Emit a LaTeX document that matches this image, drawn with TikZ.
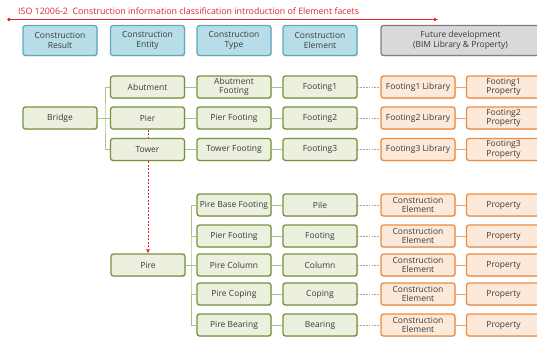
\documentclass[tikz,border=0pt]{standalone}
\usepackage{fontspec}
\setmainfont{Open Sans}
\usetikzlibrary{arrows.meta,shadows,backgrounds}

\definecolor{txt}{HTML}{3A3A3A}
\definecolor{gdraw}{HTML}{77933C}
\definecolor{gfill}{HTML}{EBF1DE}
\definecolor{gline}{HTML}{A9C47F}
\definecolor{odraw}{HTML}{F08A3C}
\definecolor{ofill}{HTML}{FDE9D9}
\definecolor{oline}{HTML}{F4A46A}
\definecolor{hdraw}{HTML}{5FA8C0}
\definecolor{hfill}{HTML}{B7DEE8}
\definecolor{fdraw}{HTML}{7F7F7F}
\definecolor{ffill}{HTML}{D9D9D9}
\definecolor{titlered}{HTML}{E0262B}

\tikzset{
  boxbase/.style={rounded corners=2.5bp, line width=1.3bp, text=txt,
    minimum width=74bp, minimum height=22bp, inner sep=0pt, align=center,
    font=\fontsize{8.5}{8.8}\selectfont,
    drop shadow={opacity=0.25, shadow xshift=0.8pt, shadow yshift=-0.8pt}},
  gbox/.style={boxbase, draw=gdraw, fill=gfill},
  obox/.style={boxbase, draw=odraw, fill=ofill},
  hbox/.style={boxbase, draw=hdraw, fill=hfill, minimum height=30bp,
    font=\fontsize{8.5}{10}\selectfont},
  fbox/.style={boxbase, draw=fdraw, fill=ffill, minimum height=30bp,
    minimum width=159bp, font=\fontsize{8.5}{10}\selectfont},
  tree/.style={draw=gline, line width=1bp},
  liblink/.style={draw=gray!70, line width=0.6bp, dash pattern=on 1.6bp off 1.2bp},
  proplink/.style={draw=oline, line width=1bp},
}

\begin{document}
\begin{tikzpicture}[x=1bp, y=-1bp]
\useasboundingbox (0,0) rectangle (537,338);
\clip (0,0) rectangle (537,338);

% title and timeline arrow
\node[anchor=base west, text=titlered, inner sep=0pt,
  font=\fontsize{8.9}{11}\selectfont] (title) at (18,14.5)
  {ISO 12006-2 \ Construction information classification introduction of Element facets};
\coordinate (tl0) at (9,19.5);
\coordinate (tl1) at (438,19.5);
\draw[titlered, line width=0.8bp, -{Latex[length=4bp,width=4bp]}] (tl0) -- (tl1);
\fill[titlered] (tl0) circle (1.8bp);

% column headers
\node[hbox] (hres) at (60,40.5) {Construction\\Result};
\node[hbox] (hent) at (147.5,40.5) {Construction\\Entity};
\node[hbox] (htyp) at (234,40.5) {Construction\\Type};
\node[hbox] (hele) at (320,40.5) {Construction\\Element};
\node[fbox] (hfut) at (460.5,40.5) {Future development\\(BIM Library \& Property)};

% bridge level
\node[gbox] (bridge) at (60,118) {Bridge};
\node[gbox] (abut) at (147.5,87) {Abutment};
\node[gbox] (pier) at (147.5,118) {Pier};
\node[gbox] (tower) at (147.5,149.5) {Tower};
\node[gbox, font=\fontsize{8.5}{9.6}\selectfont] (abutft) at (234,87) {Abutment\\Footing};
\node[gbox] (pierft) at (234,118) {Pier Footing};
\node[gbox] (towerft) at (234,149.5) {Tower Footing};
\node[gbox] (ft1) at (320,87) {Footing1};
\node[gbox] (ft2) at (320,118) {Footing2};
\node[gbox] (ft3) at (320,149.5) {Footing3};
\node[obox] (lib1) at (418,87) {Footing1 Library};
\node[obox] (lib2) at (418,118) {Footing2 Library};
\node[obox] (lib3) at (418,149.5) {Footing3 Library};
\node[obox, font=\fontsize{8.5}{9.6}\selectfont] (prop1) at (503.5,87) {Footing1\\Property};
\node[obox, font=\fontsize{8.5}{9.6}\selectfont] (prop2) at (503.5,118) {Footing2\\Property};
\node[obox, font=\fontsize{8.5}{9.6}\selectfont] (prop3) at (503.5,149.5) {Footing3\\Property};

% pire level
\node[gbox] (pire) at (148,265) {Pire};
\node[gbox] (pbase) at (234,205) {Pire Base Footing};
\node[gbox] (pfoot) at (234,236) {Pier Footing};
\node[gbox] (pcol) at (234,265) {Pire Column};
\node[gbox] (pcop) at (234,294) {Pire Coping};
\node[gbox] (pbear) at (234,325) {Pire Bearing};
\node[gbox] (epile) at (320,205) {Pile};
\node[gbox] (efoot) at (320,236) {Footing};
\node[gbox] (ecol) at (320,265) {Column};
\node[gbox] (ecop) at (320,294) {Coping};
\node[gbox] (ebear) at (320,325) {Bearing};
\foreach \n/\y in {1/205,2/236,3/265,4/294,5/325}{
  \node[obox, font=\fontsize{8.5}{8.2}\selectfont] (ce\n) at (418,\y) {Construction\\Element};
  \node[obox] (pp\n) at (503.5,\y) {Property};
}

\begin{scope}[on background layer]
  % bridge tree
  \coordinate (bj) at (105,118);
  \draw[tree] (bridge.east) -- (pier.west);
  \draw[tree] (abut.west) -| (bj) |- (tower.west);
  \draw[tree] (abut) -- (abutft);
  \draw[tree] (pier) -- (pierft);
  \draw[tree] (tower) -- (towerft);
  \draw[tree] (abutft) -- (ft1);
  \draw[tree] (pierft) -- (ft2);
  \draw[tree] (towerft) -- (ft3);
  \draw[liblink] (ft1) -- (lib1);
  \draw[liblink] (ft2) -- (lib2);
  \draw[liblink] (ft3) -- (lib3);
  \draw[proplink] (lib1) -- (prop1);
  \draw[proplink] (lib2) -- (prop2);
  \draw[proplink] (lib3) -- (prop3);

  % pier expands into the pire tree
  \draw[titlered, line width=0.8bp, dash pattern=on 2bp off 1.5bp,
    -{Latex[length=4bp,width=4bp]}] (pier.south -| pire.north) -- (pire.north);

  % pire tree
  \coordinate (pj) at (191,265);
  \draw[tree] (pire.east) -- (pcol.west);
  \draw[tree] (pbase.west) -| (pj) |- (pbear.west);
  \draw[tree] (pj |- pfoot) -- (pfoot.west);
  \draw[tree] (pj |- pcop) -- (pcop.west);
  \draw[tree] (pbase) -- (epile);
  \draw[tree] (pfoot) -- (efoot);
  \draw[tree] (pcol) -- (ecol);
  \draw[tree] (pcop) -- (ecop);
  \draw[tree] (pbear) -- (ebear);
  \draw[liblink] (epile) -- (ce1);
  \draw[liblink] (efoot) -- (ce2);
  \draw[liblink] (ecol) -- (ce3);
  \draw[liblink] (ecop) -- (ce4);
  \draw[liblink] (ebear) -- (ce5);
  \foreach \n in {1,...,5}{ \draw[proplink] (ce\n) -- (pp\n); }
\end{scope}
\end{tikzpicture}
\end{document}
